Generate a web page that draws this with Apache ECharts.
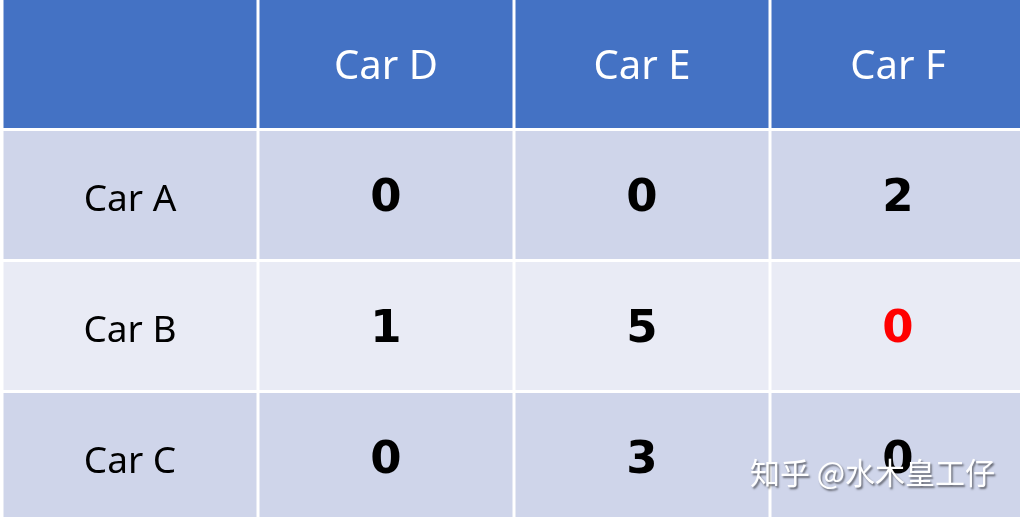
<!DOCTYPE html>
<html>
<head>
<meta charset="utf-8">
<script src="https://cdn.jsdelivr.net/npm/echarts@6/dist/echarts.min.js"></script>
<style>
  html, body { margin: 0; padding: 0; background: #fff; }
  #main { width: 1020px; height: 517px; }
</style>
</head>
<body>
<div id="main"></div>
<script>
// table contents
var colLabels = ['Car D', 'Car E', 'Car F'];
var rowLabels = ['Car A', 'Car B', 'Car C'];
var values = [
    [0, 0, 2],
    [1, 5, 0],
    [0, 3, 0]
];
// cells shown in red: [row, col]
var redCells = [[1, 2]];

var headerColor = '#4472C4';
var bandColors = ['#CFD5EA', '#E9EBF5'];

function isRed(r, c) {
    return redCells.some(function(p) { return p[0] === r && p[1] === c; });
}

// build cells: [col, row] centres on the value axes, plus text and kind
var cells = [];
cells.push({ pos: [0.5, 0.5], row: 0, text: '', kind: 'header' });
colLabels.forEach(function(name, c) {
    cells.push({ pos: [c + 1.5, 0.5], row: 0, text: name, kind: 'header' });
});
rowLabels.forEach(function(name, r) {
    cells.push({ pos: [0.5, r + 1.5], row: r + 1, text: name, kind: 'rowLabel' });
    values[r].forEach(function(v, c) {
        cells.push({ pos: [c + 1.5, r + 1.5], row: r + 1, text: String(v), kind: isRed(r, c) ? 'red' : 'value' });
    });
});

function renderItem(params, api) {
    var cell = cells[params.dataIndex];
    var center = api.coord([api.value(0), api.value(1)]);
    var size = api.size([1, 1]);
    var fill = cell.row === 0 ? headerColor : bandColors[(cell.row - 1) % 2];
    var gap = 1.5;
    var font, color, dy;
    if (cell.kind === 'header') {
        font = '40px "Noto Sans", sans-serif';
        color = '#fff';
        dy = 4;
    } else if (cell.kind === 'rowLabel') {
        font = '37px "Noto Sans", sans-serif';
        color = '#000';
        dy = 5;
    } else {
        font = 'bold 45px "DejaVu Sans", sans-serif';
        color = cell.kind === 'red' ? '#FF0000' : '#000';
        dy = 4;
    }
    return {
        type: 'group',
        children: [{
            type: 'rect',
            shape: {
                x: center[0] - size[0] / 2 + gap,
                y: center[1] - size[1] / 2 + gap,
                width: size[0] - gap * 2,
                height: size[1] - gap * 2
            },
            style: { fill: fill }
        }, {
            type: 'text',
            style: {
                text: cell.text,
                x: center[0],
                y: center[1] + dy,
                align: 'center',
                verticalAlign: 'middle',
                font: font,
                fill: color
            }
        }]
    };
}

var chart = echarts.init(document.getElementById('main'));
var option = {
    backgroundColor: '#fff',
    animation: false,
    title: {
        text: '知乎 @水木皇工仔',
        left: 745,
        top: 453,
        textStyle: {
            fontFamily: '"Noto Sans CJK SC", sans-serif',
            fontSize: 30,
            fontWeight: 'normal',
            color: '#fff',
            textShadowColor: 'rgba(0,0,0,0.5)',
            textShadowBlur: 2,
            textShadowOffsetX: 1.5,
            textShadowOffsetY: 1.5
        }
    },
    // columns 256px wide, rows 131px tall; the table runs past the right and bottom edges
    grid: { left: 2, top: 0, right: 0, bottom: 0 },
    xAxis: {
        type: 'value',
        min: 0,
        max: 1018 / 256,
        show: false
    },
    yAxis: {
        type: 'value',
        inverse: true,
        min: 1.5 / 131,
        max: 1.5 / 131 + 517 / 131,
        show: false
    },
    series: [{
        type: 'custom',
        renderItem: renderItem,
        clip: true,
        data: cells.map(function(c) { return c.pos; })
    }]
};
chart.setOption(option);
</script>
</body>
</html>
